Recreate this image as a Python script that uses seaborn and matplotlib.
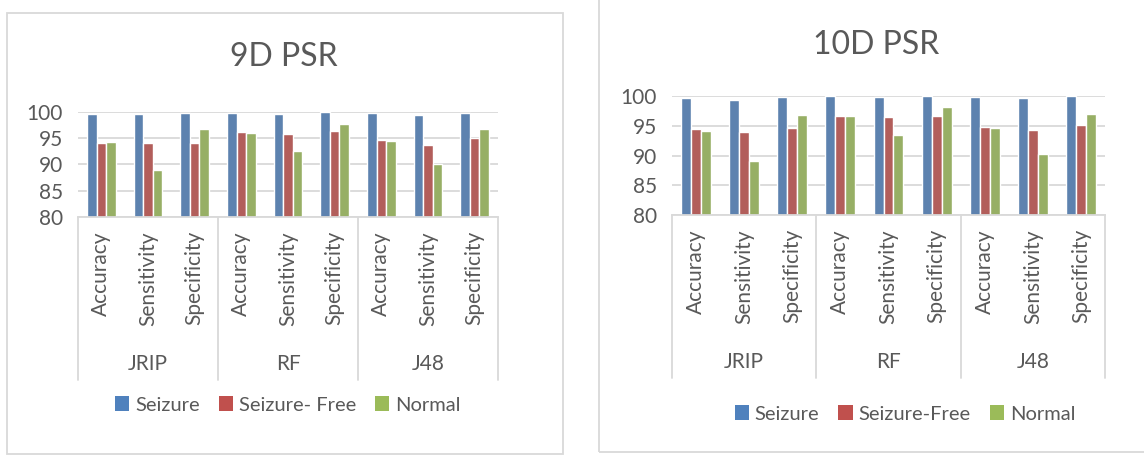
import matplotlib
matplotlib.use("Agg")
import matplotlib.pyplot as plt
from matplotlib.patches import Rectangle, Patch
import numpy as np
import pandas as pd
import seaborn as sns

# Classifiers and metrics (two-level category axis)
models = ["JRIP", "RF", "J48"]
metrics = ["Accuracy", "Sensitivity", "Specificity"]

# 9D PSR results (%)
psr9_seizure = [99.7, 99.6, 99.75, 99.9, 99.7, 100.0, 99.75, 99.4, 99.9]
psr9_free = [94.1, 94.0, 94.1, 96.1, 95.9, 96.3, 94.7, 93.8, 95.1]
psr9_normal = [94.3, 89.0, 96.8, 96.0, 92.5, 97.8, 94.5, 90.0, 96.7]
psr9_classes = ["Seizure", "Seizure- Free", "Normal"]

# 10D PSR results (%)
psr10_seizure = [99.7, 99.4, 99.8, 99.95, 99.8, 100.0, 99.8, 99.7, 99.95]
psr10_free = [94.4, 93.9, 94.6, 96.6, 96.5, 96.7, 94.8, 94.3, 95.2]
psr10_normal = [94.1, 89.1, 96.8, 96.6, 93.4, 98.1, 94.7, 90.3, 97.0]
psr10_classes = ["Seizure", "Seizure-Free", "Normal"]

yticks = [80, 85, 90, 95, 100]

colors = ["#4F81BD", "#C0504D", "#9BBB59"]
text_c = "#595959"
grid_c = "#D9D9D9"
FS = 15

sns.set_style("white")
plt.rcParams["font.family"] = ["Lato", "DejaVu Sans"]

W, H = 1144, 455
fig = plt.figure(figsize=(W / 100, H / 100), dpi=100)


def fx(px):
    return px / W


def fy(py):
    return 1 - py / H


def build_frame(series, classes):
    rows = []
    for cls, vals in zip(classes, series):
        for i, v in enumerate(vals):
            rows.append({"cat": f"{models[i // 3]}|{metrics[i % 3]}",
                         "cls": cls, "value": v})
    return pd.DataFrame(rows)


def draw_panel(rect_px, series, classes, title, title_xy, legend_xy):
    left, top, right, bottom = rect_px
    ax = fig.add_axes([fx(left), fy(bottom), fx(right - left), (bottom - top) / H])
    df = build_frame(series, classes)
    order = [f"{m}|{k}" for m in models for k in metrics]
    sns.barplot(data=df, x="cat", y="value", hue="cls", order=order,
                hue_order=classes, palette=colors, width=0.62,
                edgecolor="white", linewidth=1.0, legend=False, ax=ax)
    ax.set_ylim(80, 100)
    ax.set_xlim(-0.5, len(order) - 0.5)
    ax.set_yticks(yticks)
    ax.set_yticklabels([str(t) for t in yticks], fontsize=FS, color=text_c)
    ax.tick_params(axis="y", length=0, pad=11)
    ax.tick_params(axis="x", length=0, labelbottom=False)
    ax.set_xlabel("")
    ax.set_ylabel("")
    ax.grid(axis="y", color=grid_c, linewidth=1.3)
    ax.set_axisbelow(True)
    for s in ["left", "right", "top"]:
        ax.spines[s].set_visible(False)
    ax.spines["bottom"].set_color(grid_c)
    ax.spines["bottom"].set_linewidth(1.3)

    # two-level category labels
    trans = ax.get_xaxis_transform()
    axis_h = bottom - top
    to_ax = lambda py: (bottom - py) / axis_h
    for i, name in enumerate(order):
        ax.text(i, to_ax(bottom + 14), name.split("|")[1], rotation=90,
                ha="center", va="top", fontsize=FS, color=text_c,
                transform=trans)
    for g, m in enumerate(models):
        ax.text(g * 3 + 1, to_ax(bottom + 147), m, ha="center", va="center",
                fontsize=FS, color=text_c, transform=trans)
    for b in [-0.5, 2.5, 5.5, 8.5]:
        ax.plot([b, b], [0, to_ax(bottom + 163)], color=grid_c, lw=1.3,
                transform=trans, clip_on=False)

    fig.text(fx(title_xy[0]), fy(title_xy[1]), title, ha="center",
             va="center", fontsize=23, color=text_c)
    handles = [Patch(facecolor=c, edgecolor="none") for c in colors]
    fig.legend(handles, classes, loc="center",
               bbox_to_anchor=(fx(legend_xy[0]), fy(legend_xy[1])),
               ncol=3, frameon=False, fontsize=14.5, labelcolor=text_c,
               handlelength=0.7, handleheight=0.7, handletextpad=0.3,
               columnspacing=0.95)
    return ax


# chart borders
fig.patches.append(Rectangle((fx(7), fy(454)), fx(556), (454 - 13) / H,
                             transform=fig.transFigure, fill=False,
                             edgecolor=grid_c, lw=1.3))
fig.patches.append(Rectangle((fx(599), fy(452)), fx(560), (452 + 10) / H,
                             transform=fig.transFigure, fill=False,
                             edgecolor=grid_c, lw=1.3))

draw_panel((78, 112, 498, 217), [psr9_seizure, psr9_free, psr9_normal],
           psr9_classes, "9D PSR", (284, 57), (288, 405))
draw_panel((672, 96, 1105, 215), [psr10_seizure, psr10_free, psr10_normal],
           psr10_classes, "10D PSR", (876, 45), (905, 414))

fig.savefig("out.png", dpi=100)
